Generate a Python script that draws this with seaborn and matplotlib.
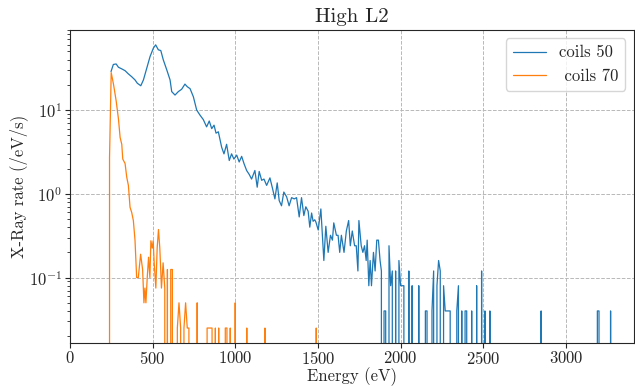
import numpy as np
import pandas as pd
import matplotlib
matplotlib.use("Agg")
import matplotlib.pyplot as plt
import seaborn as sns

# --------------
# Data (energy in eV, rate in /eV/s)
# --------------
# coils 50: continuous part
c50_energy = [249, 263, 280, 294, 314, 334, 354, 374, 394, 408, 429, 445, 465, 485, 505,
              519, 535, 550, 565, 586, 606, 616, 636, 656, 676, 696, 710, 727, 747, 767,
              787, 807, 827, 843, 858, 872, 884, 898, 918, 932, 948, 964, 978, 992, 1009,
              1024, 1039, 1053, 1069, 1085, 1099, 1119, 1133, 1145, 1160, 1174, 1190, 1210,
              1226, 1240, 1254, 1266, 1280, 1294, 1311, 1326, 1341, 1357, 1371, 1387, 1401,
              1415, 1427, 1441, 1451, 1462, 1471, 1481, 1488, 1502, 1518, 1536, 1548, 1562,
              1576, 1588, 1596, 1612, 1622, 1632, 1642, 1658, 1672, 1686, 1696, 1708, 1722,
              1732, 1742, 1748, 1762, 1772, 1782, 1792, 1798, 1808, 1816, 1824, 1836, 1846,
              1856, 1866, 1876, 1884]
c50_rate = [28.8, 35, 35.5, 32.4, 31, 29.5, 27, 25, 22.9, 20.9, 19.5, 22.9, 31.6, 43.5, 54.8,
            60, 52.4, 51.3, 39.8, 30.2, 22.9, 16.6, 15.1, 16.6, 17.7, 20.4, 19.0, 18, 14.4, 10,
            8.7, 7.7, 6.3, 7.4, 6.0, 6.6, 5.3, 5.5, 3.6, 3.0, 3.9, 2.5, 3.0, 2.6, 2.9,
            2.4, 2.8, 2.3, 1.9, 1.7, 1.5, 1.9, 1.2, 1.85, 1.45, 1.5, 1.26, 1.55,
            1.15, 0.87, 1.35, 0.83, 0.72, 1.05, 0.92, 0.72, 0.9, 0.87, 0.9, 0.53, 0.9,
            0.55, 0.7, 0.62, 0.40, 0.59, 0.47, 0.49, 0.46, 0.37, 0.66, 0.16, 0.41, 0.20,
            0.32, 0.28, 0.45, 0.32, 0.32, 0.20, 0.32, 0.20, 0.36, 0.48, 0.24, 0.36, 0.24,
            0.24, 0.12, 0.48, 0.24, 0.20, 0.24, 0.16, 0.28, 0.08, 0.16, 0.08, 0.20, 0.12,
            0.28, 0.28, 0.16, 0.12]
# coils 50: sparse tail, 10 eV bins, only the non-empty ones
c50_tail_energy = [1900, 1910, 1930, 1940, 1950, 1970, 1990, 2000, 2010, 2020, 2050, 2070,
                   2110, 2150, 2160, 2190, 2200, 2220, 2230, 2240, 2260, 2270, 2280, 2290,
                   2300, 2340, 2350, 2370, 2390, 2400, 2430, 2460, 2490, 2510, 2540, 2850,
                   3190, 3200, 3270]
c50_tail_rate = [0.04, 0.04, 0.24, 0.08, 0.12, 0.12, 0.16, 0.08, 0.08, 0.08, 0.12, 0.08,
                 0.08, 0.04, 0.04, 0.04, 0.12, 0.08, 0.16, 0.12, 0.08, 0.04, 0.04, 0.04,
                 0.04, 0.04, 0.08, 0.04, 0.04, 0.04, 0.04, 0.08, 0.12, 0.04, 0.04, 0.04,
                 0.04, 0.04, 0.04]

# coils 70: continuous part
c70_energy = [230, 240, 250, 264, 280, 294, 304, 314, 320, 334, 344, 354, 364, 374, 384, 394,
              404, 414, 428, 440, 448, 454, 460, 468, 476, 484, 490, 498, 504, 510, 520,
              528, 536, 544, 554, 564, 574]
c70_rate = [0, 2.7, 28, 20.3, 12.9, 7.8, 4.7, 3.9, 2.6, 2.3, 1.58, 1.26, 0.69, 0.60, 0.48, 0.28,
            0.10, 0.10, 0.19, 0.125, 0.05, 0.075, 0.05, 0.10, 0.175, 0.10, 0.275, 0.225, 0.275,
            0.15, 0.075, 0.225, 0.375, 0.225, 0.075, 0.15, 0.075]
# coils 70: sparse tail, 10 eV bins
c70_tail_energy = [590, 610, 620, 650, 660, 670, 690, 700, 710, 720, 770, 830, 840, 850, 860,
                   880, 900, 940, 950, 970, 1000, 1070, 1180, 1490]
c70_tail_rate = [0.125, 0.125, 0.125, 0.025, 0.05, 0.025, 0.025, 0.05, 0.025, 0.025, 0.05,
                 0.025, 0.025, 0.025, 0.025, 0.025, 0.025, 0.025, 0.025, 0.025, 0.05, 0.025,
                 0.025, 0.025]


def full_series(energy, rate, tail_energy, tail_rate, tail_start, tail_stop):
    # empty bins of the tail are zero counts
    grid = np.arange(tail_start, tail_stop + 10, 10)
    tail = pd.Series(0.0, index=grid)
    tail.loc[tail_energy] = tail_rate
    e = np.concatenate([energy, grid])
    r = np.concatenate([rate, tail.values])
    return pd.DataFrame({"Energy": e, "Rate": r})


df50 = full_series(c50_energy, c50_rate, c50_tail_energy, c50_tail_rate, 1890, 3300)
df70 = full_series(c70_energy, c70_rate, c70_tail_energy, c70_tail_rate, 580, 3300)

# --------------
# Plot
# --------------
sns.set_style("ticks")
plt.rcParams["font.family"] = "serif"
plt.rcParams["font.serif"] = ["cmr10"]
plt.rcParams["mathtext.fontset"] = "cm"
plt.rcParams["axes.formatter.use_mathtext"] = True

fig, ax = plt.subplots(figsize=(6.35, 3.86), dpi=100)
fig.subplots_adjust(left=0.110, right=0.998, bottom=0.111, top=0.922)

sns.lineplot(data=df50, x="Energy", y="Rate", ax=ax, color="#1f77b4", lw=0.9,
             estimator=None, sort=False, label="coils 50")
sns.lineplot(data=df70, x="Energy", y="Rate", ax=ax, color="#ff7f0e", lw=0.9,
             estimator=None, sort=False, label=" coils 70")

ax.set_yscale("log")
ax.set_xlim(0, 3410)
ax.set_ylim(0.0165, 90)
ax.set_xticks([0, 500, 1000, 1500, 2000, 2500, 3000])
ax.grid(True, which="major", ls="--", color="0.72", lw=0.7)
ax.tick_params(labelsize=12)
ax.tick_params(axis="x", pad=1.5)
ax.tick_params(axis="y", pad=2)
ax.set_xlabel("Energy (eV)", fontsize=12, labelpad=0)
ax.set_ylabel("X-Ray rate (/eV/s)", fontsize=12, labelpad=1)
ax.set_title("High L2", fontsize=15)
ax.legend(loc="upper right", fontsize=12)

plt.savefig("out.png")
plt.close()
